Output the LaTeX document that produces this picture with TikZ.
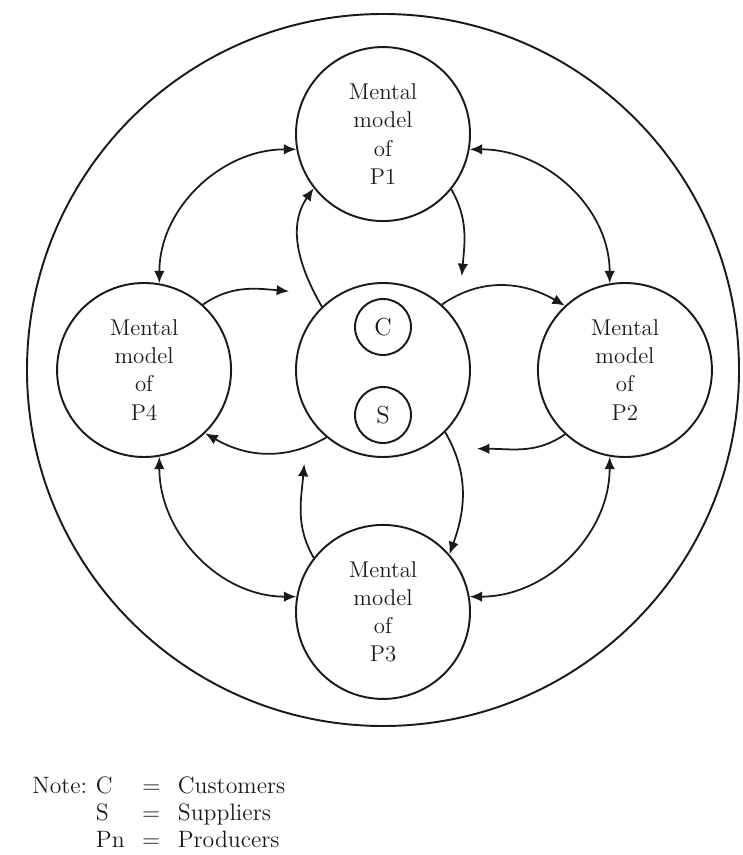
\documentclass[tikz,border=0pt]{standalone}
\definecolor{mmink}{HTML}{1A1A1A}
\usepackage{tikz}
\usetikzlibrary{positioning, arrows.meta}

\begin{document}
\begin{tikzpicture}[every node/.style={text=mmink}, node distance=1.3cm,
    model/.style={circle, draw=mmink, line width=1.1pt, minimum size=3.48cm, inner sep=0pt, align=center, font=\fontsize{13}{16}\selectfont},
    party/.style={circle, draw=mmink, line width=1.1pt, minimum size=1.12cm, inner sep=0pt, font=\fontsize{14}{16}\selectfont},
    feed/.style={-{Latex[length=2.5mm, width=2.1mm]}, mmink, line width=1pt},
    exchange/.style={{Latex[length=2.5mm, width=2.1mm]}-{Latex[length=2.5mm, width=2.1mm]}, mmink, line width=1pt}]
        \useasboundingbox (-7.66,-9.70) rectangle (7.18,7.40);
        \node[model] (hub) at (0,0) {};
        \node[party, yshift=8.6mm] (cust) at (hub.center) {C};
        \node[party, yshift=-9mm] (supp) at (hub.center) {S};
        \node[model, above=1.2cm of hub] (p1) {Mental\\model\\of\\P1};
        \node[model, right=1.32cm of hub] (p2) {Mental\\model\\of\\P2};
        \node[model, below=1.32cm of hub] (p3) {Mental\\model\\of\\P3};
        \node[model, left=1.26cm of hub] (p4) {Mental\\model\\of\\P4};
        \node[circle, draw=mmink, line width=1.1pt, minimum size=14.24cm] (world) at (hub) {};
        % free ends of the arrows going back to the hub
        \coordinate (in1) at ([shift={(50:2.45)}]hub.center);
        \coordinate (in2) at ([shift={(-40:2.45)}]hub.center);
        \coordinate (in3) at ([shift={(230:2.45)}]hub.center);
        \coordinate (in4) at ([shift={(140:2.45)}]hub.center);
        % outer ring
        \draw[exchange] (p4.80) to[out=90, in=180] (p1.190);
        \draw[exchange] (p1.350) to[out=0, in=90] (p2.100);
        \draw[exchange] (p2.260) to[out=-90, in=0] (p3.10);
        \draw[exchange] (p3.170) to[out=180, in=-90] (p4.280);
        % hub to the models
        \draw[feed] (hub.134) to[out=120, in=235] (p1.218);
        \draw[feed] (hub.48) to[out=35, in=150] (p2.133);
        \draw[feed] (hub.-45) to[out=-60, in=70] (p3.41);
        \draw[feed] (hub.230) to[out=210, in=-30] (p4.314);
        % models back to the hub
        \draw[feed] (p1.321) to[out=-60, in=85] (in1);
        \draw[feed] (p2.227) to[out=215, in=0] (in2);
        \draw[feed] (p3.142) to[out=120, in=265] (in3);
        \draw[feed] (p4.48) to[out=35, in=175] (in4);
        \node[anchor=base west, inner sep=0pt, font=\fontsize{13.5}{15.5}\selectfont] (note) at (-7.02,-8.46) {\begin{tabular}[t]{@{}l@{\hspace{5pt}}l@{\hspace{10pt}}c@{\hspace{10pt}}l@{}}Note: & C & = & Customers\\ & S & = & Suppliers\\ & Pn & = & Producers\end{tabular}};
      \end{tikzpicture}
\end{document}
